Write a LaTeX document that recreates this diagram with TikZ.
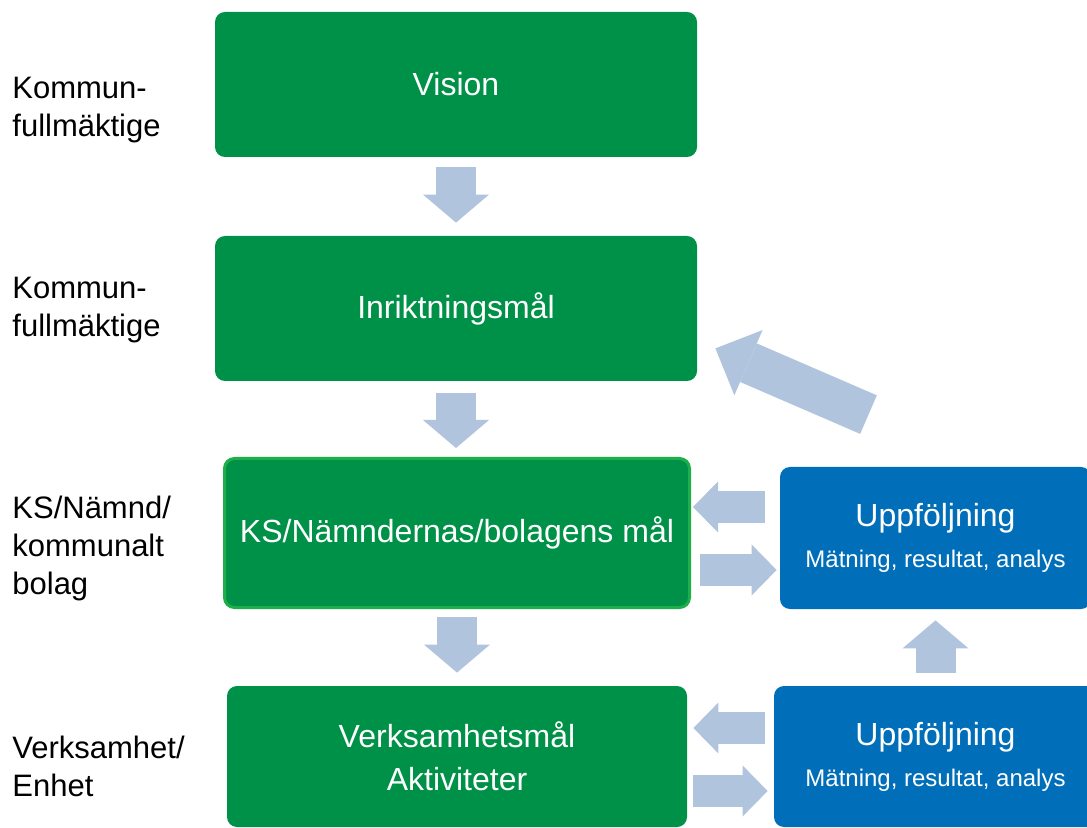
\documentclass[tikz,border=0pt]{standalone}
\usepackage{fontspec}
\setmainfont{Liberation Sans}
\usetikzlibrary{arrows.meta,calc}
\definecolor{goalgreen}{RGB}{0,145,72}
\definecolor{goalrim}{RGB}{30,175,75}
\definecolor{followblue}{RGB}{0,110,184}
\definecolor{flowgrey}{RGB}{176,196,222}
\tikzset{
    goal/.style={fill=goalgreen,rounded corners=5pt,text=white,align=center,inner sep=0pt,font=\fontsize{16}{21.5}\selectfont},
    follow/.style={fill=followblue,rounded corners=5pt,text=white,align=center,inner sep=0pt,font=\fontsize{16}{20.5}\selectfont},
    level/.style={anchor=west,align=left,inner sep=0pt,font=\fontsize{15.5}{19}\selectfont},
    fatarrow/.style={draw=flowgrey,line width=20pt,-{Triangle[length=14pt,width=33pt,line width=0pt]}},
    sidearrow/.style={draw=flowgrey,line width=16pt,-{Triangle[length=12.5pt,width=25.5pt,line width=0pt]}},
    backarrow/.style={draw=flowgrey,line width=21pt,-{Triangle[length=18pt,width=35.5pt,line width=0pt]}}
}
\begin{document}
\begin{tikzpicture}[x=0.5pt,y=-0.5pt]
    \useasboundingbox (0,0) rectangle (1087,828);
    \node[level] (lab1) at (12,110) {Kommun-\\fullmäktige};
    \node[level] (lab2) at (12,310) {Kommun-\\fullmäktige};
    \node[level] (lab3) at (12,548) {KS/Nämnd/\\kommunalt\\bolag};
    \node[level] (lab4) at (12,766) {Verksamhet/\\Enhet};
    \node[goal,minimum width=241pt,minimum height=72.5pt] (vision) at (456,84.5) {Vision};
    \node[goal,minimum width=241pt,minimum height=72.5pt] (inrikt) at (456,308.5) {Inriktningsmål};
    \node[goal,draw=goalrim,line width=1.5pt,minimum width=232.5pt,minimum height=74.5pt] (ksmal) at (457,533) {KS/Nämndernas/bolagens mål};
    \node[goal,minimum width=230pt,minimum height=70.5pt] (verks) at (457,756.5) {Verksamhetsmål\\Aktiviteter};
    \node[follow,minimum width=155.5pt,minimum height=71pt] (upp1) at (935.5,538) {Uppföljning\\{\fontsize{12}{20.5}\selectfont Mätning, resultat, analys}};
    \node[follow,minimum width=161.5pt,minimum height=70.5pt] (upp2) at (935.5,756.5) {Uppföljning\\{\fontsize{12}{20.5}\selectfont Mätning, resultat, analys}};
    \draw[fatarrow,shorten <=5pt,shorten >=6.5pt] (vision) -- (inrikt);
    \draw[fatarrow,shorten <=6pt,shorten >=4.5pt] (inrikt.south) -- (inrikt.south |- ksmal.north);
    \draw[fatarrow,shorten <=4pt,shorten >=6.5pt] (ksmal) -- (verks);
    \draw[fatarrow,shorten <=6.5pt,shorten >=5.5pt] (upp2) -- (upp1);
    \coordinate (ksin) at ($(upp1.west)+(0,-31)$);
    \coordinate (ksout) at ($(upp1.west)+(0,32)$);
    \draw[sidearrow,shorten <=7.5pt,shorten >=1pt] (ksin) -- (ksin -| ksmal.east);
    \draw[sidearrow,shorten <=4.5pt,shorten >=1.5pt] (ksout -| ksmal.east) -- (ksout);
    \coordinate (vkin) at ($(upp2.west)+(0,-28.5)$);
    \coordinate (vkout) at ($(upp2.west)+(0,34.5)$);
    \draw[sidearrow,shorten <=4.5pt,shorten >=3pt] (vkin) -- (vkin -| verks.east);
    \draw[sidearrow,shorten <=3pt,shorten >=3pt] (vkout -| verks.east) -- (vkout);
    \coordinate (backtail) at ($(upp1.north)+(-67,-52)$);
    \coordinate (backtip) at ($(inrikt.south east)+(18,-33)$);
    \draw[backarrow] (backtail) -- (backtip);
\end{tikzpicture}
\end{document}
